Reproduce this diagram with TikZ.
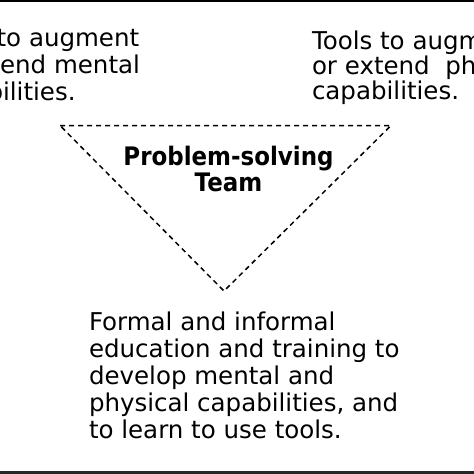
\documentclass[tikz,border=0pt]{standalone}
\usepackage{fontspec}
\setmainfont{DejaVu Sans}
\newfontfamily\teamfont{DejaVu Sans Bold}[FakeStretch=0.9]
\begin{document}
\begin{tikzpicture}[x=1pt,y=-1pt,
  txt/.style={inner sep=0pt,outer sep=0pt,align=left,anchor=base west},
  tri/.style={dash pattern=on 5pt off 4pt,line width=1.5pt},
  rule/.style={line width=#1}]
\useasboundingbox (0,0) rectangle (474,474);
\begin{scope}
\clip (0,0) rectangle (474,474);
% anchor "base" of a multi-line node is the baseline of its last line
\node[txt,font={\fontsize{24.5}{27}\selectfont}] (lefttext) at (-71.5,100)
  {Tools to augment\\or extend mental\\capabilities.};
\node[txt,font={\fontsize{24.5}{25}\selectfont}] (righttext) at (312,99.5)
  {Tools to augment\\or extend\ \ physical\\capabilities.};
\node[txt,font={\fontsize{24.5}{27}\selectfont}] (bottomtext) at (89,438.3)
  {Formal and informal\\education and training to\\develop mental and\\physical capabilities, and\\to learn to use tools.};
\node[inner sep=0pt,outer sep=0pt,align=center,anchor=base,font={\teamfont\fontsize{25.5}{26.7}\selectfont}] (team) at (228.5,191.7)
  {Problem-solving\\Team};
\coordinate (tl) at (60,125.5);
\coordinate (tr) at (391,125.5);
\coordinate (bv) at (224,291);
\draw[tri] (tl) -- (tr) -- (bv) -- cycle;
\coordinate (topl) at (0,1);
\coordinate (topr) at (474,1);
\coordinate (botl) at (0,472.5);
\coordinate (botr) at (474,472.5);
\draw[rule=2.5pt,black] (topl) -- (topr);
\draw[rule=3.5pt,black!85] (botl) -- (botr);
\end{scope}
\end{tikzpicture}
\end{document}
